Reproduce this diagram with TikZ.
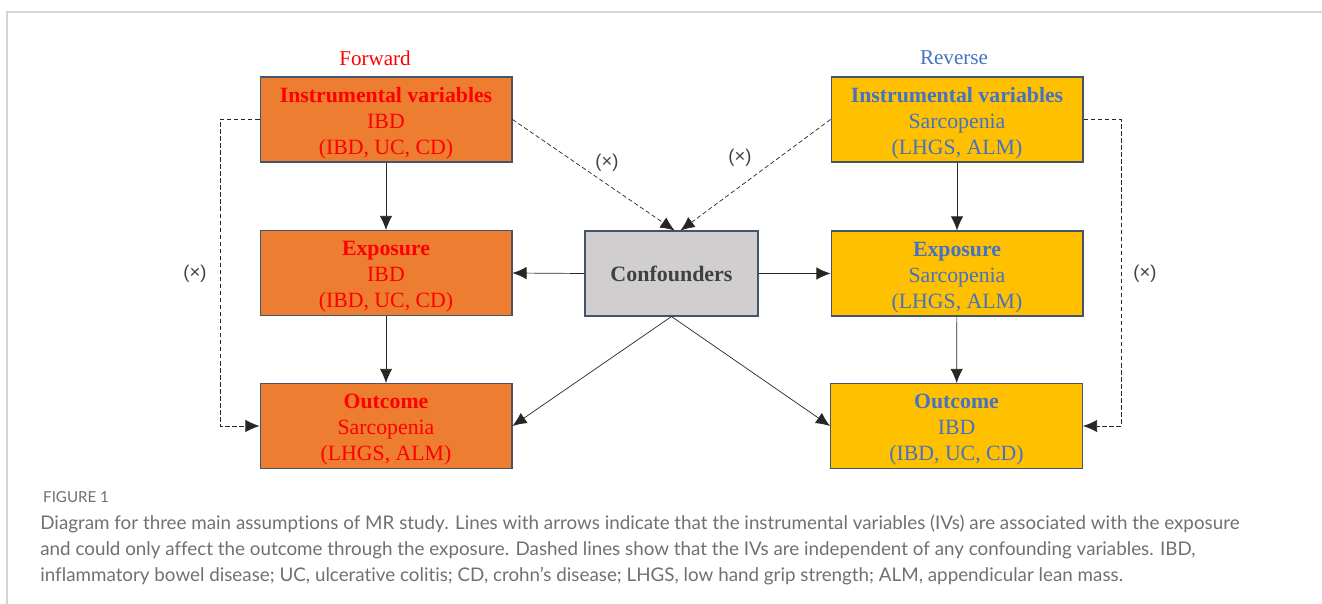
\documentclass[tikz,border=0pt]{standalone}
\usepackage{fontspec}
\setmainfont{Liberation Serif}
\newfontfamily\capfont[Ligatures={NoCommon}]{Lato}
\newfontfamily\markfont{Liberation Sans}
\usetikzlibrary{arrows.meta}

\newcommand{\toprow}[1]{\rule{0pt}{12.6pt}\textbf{#1}}

\begin{document}
\begin{tikzpicture}[x=0.02cm,y=-0.02cm,
    box/.style={draw=boxline,semithick,minimum width=5.04cm,minimum height=1.7cm,
      inner sep=0pt,align=center,font=\fontsize{12.4}{14.7}\selectfont},
    fwdbox/.style={box,fill=forange,text=fred},
    revbox/.style={box,fill=ryellow,text=rblue},
    confbox/.style={box,fill=confgray,text=conftext,minimum width=3.46cm,
      font=\fontsize{12.5}{14.7}\selectfont\bfseries},
    link/.style={-{Latex[length=8pt,width=7pt]},thin,black!85},
    nolink/.style={link,dash pattern=on 2.5pt off 1.5pt},
    cross/.style={font=\markfont\fontsize{10.5}{12}\selectfont,text=black!75}
  ]

\definecolor{forange}{RGB}{237,125,49}
\definecolor{fred}{RGB}{255,0,0}
\definecolor{ryellow}{RGB}{255,192,0}
\definecolor{rblue}{RGB}{68,114,196}
\definecolor{confgray}{RGB}{208,206,206}
\definecolor{conftext}{RGB}{64,64,64}
\definecolor{boxline}{RGB}{68,84,106}
\definecolor{capgray}{RGB}{112,112,112}
\definecolor{framegray}{RGB}{212,212,212}

\useasboundingbox (0,0) rectangle (1322,604);
\draw[framegray,line width=1pt] (1322,12) -- (7,12) -- (7,604);

% forward
\node[text=fred,font=\fontsize{12}{14}\selectfont] (fwdlbl) at (375,58) {Forward};
\node[fwdbox] (ivf) at (386,119.5) {\toprow{Instrumental variables}\\IBD\\(IBD, UC, CD)};
\node[fwdbox] (exf) at (386,273) {\toprow{Exposure}\\IBD\\(IBD, UC, CD)};
\node[fwdbox] (outf) at (386,426) {\toprow{Outcome}\\Sarcopenia\\(LHGS, ALM)};

% reverse
\node[text=rblue,font=\fontsize{12}{14}\selectfont] (revlbl) at (954,58) {Reverse};
\node[revbox] (ivr) at (957,119.5) {\toprow{Instrumental variables}\\Sarcopenia\\(LHGS, ALM)};
\node[revbox] (exr) at (957,273.5) {\toprow{Exposure}\\Sarcopenia\\(LHGS, ALM)};
\node[revbox] (outr) at (956.5,426) {\toprow{Outcome}\\IBD\\(IBD, UC, CD)};

\node[confbox] (conf) at (671.5,273.5) {Confounders};

\draw[link] (ivf) -- (exf);
\draw[link] (exf) -- (outf);
\draw[link] (ivr) -- (exr);
\draw[link] (exr) -- (outr);
\draw[link] (conf.west) -- (exf.east);
\draw[link] (conf.east) -- (exr.west);
\draw[link] (conf.south) -- (outf.east);
\draw[link] (conf.south) -- (outr.west);

\coordinate (lbend) at (220,119.5);
\coordinate (rbend) at (1121,119.5);
\draw[nolink] (ivf.west) -- (lbend) |- (outf.west);
\draw[nolink] (ivr.east) -- (rbend) |- (outr.east);
\draw[nolink] (ivf.east) -- ([xshift=0.06cm]conf.north);
\draw[nolink] (ivr.west) -- ([xshift=0.18cm]conf.north);

\node[cross] (xl) at (195,274) {(×)};
\node[cross] (xr) at (1145,274) {(×)};
\node[cross] (xml) at (607,163) {(×)};
\node[cross] (xmr) at (740,158) {(×)};

% caption
\node[anchor=west,text=capgray,font=\capfont\fontsize{8.6}{10}\selectfont] (figno) at (37,497) {FIGURE 1};
\node[anchor=north west,align=left,text=capgray,inner sep=0pt,
  font=\capfont\fontsize{10.7}{14.7}\selectfont] (cap) at (40,515)
  {Diagram for three main assumptions of MR study. Lines with arrows indicate that the instrumental variables (IVs) are associated with the exposure\\
   and could only affect the outcome through the exposure. Dashed lines show that the IVs are independent of any confounding variables. IBD,\\
   inflammatory bowel disease; UC, ulcerative colitis; CD, crohn’s disease; LHGS, low hand grip strength; ALM, appendicular lean mass.};

\end{tikzpicture}
\end{document}
